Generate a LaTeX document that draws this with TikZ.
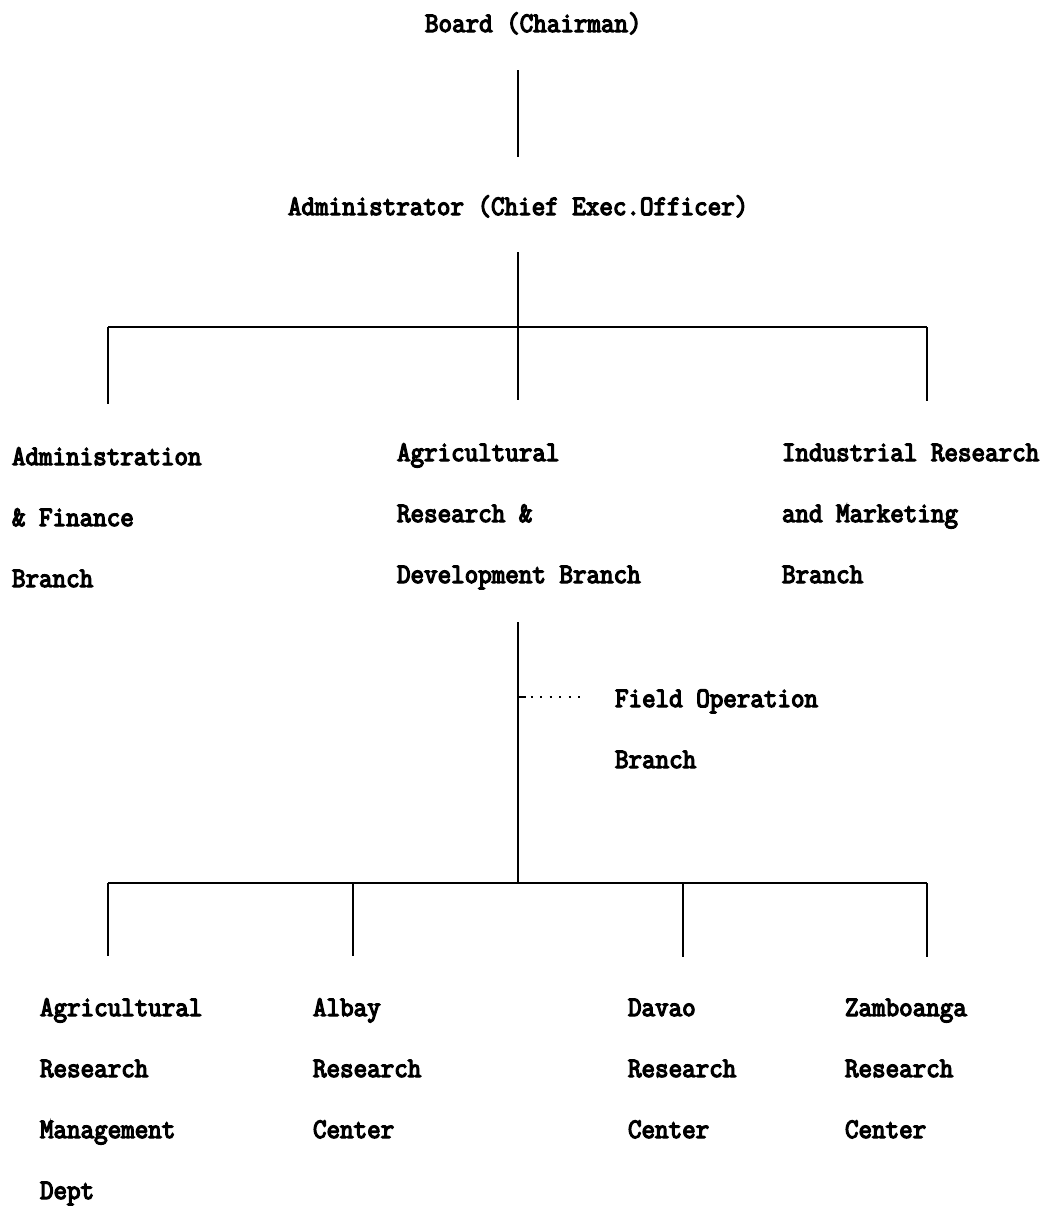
\documentclass[tikz,border=0pt]{standalone}
\usepackage{fontspec}
\setmonofont[FakeBold=4.5,FakeStretch=0.93]{Latin Modern Mono}
\usetikzlibrary{calc}

\begin{document}
\begin{tikzpicture}[x=0.75pt,y=-0.75pt,
  lbl/.style={anchor=base west, inner sep=0pt, outer sep=0pt, align=left,
    font=\ttfamily\fontsize{21.2}{45.75}\selectfont},
  link/.style={line width=2.2pt, line cap=butt},
  dotlink/.style={line width=1.5pt,
    dash pattern=on 6pt off 3.5pt on 1.5pt off 5.6pt on 1.5pt off 5.6pt
      on 1.5pt off 5.6pt on 1.5pt off 5.6pt on 1.5pt off 5.6pt on 1.5pt off 20pt}]
  \useasboundingbox[fill=white] (0,0) rectangle (1045,1208);

  % ---- labels (anchored at the baseline of their last line) ----
  \node[lbl] (board) at (425,32)  {Board (Chairman)};
  \node[lbl] (admin) at (288,215) {Administrator (Chief Exec.Officer)};

  \node[lbl] (af)  at (12,587)  {Administration\\\& Finance\\Branch};
  \node[lbl] (ard) at (397,583) {Agricultural\\Research \&\\Development Branch};
  \node[lbl] (irm) at (782,583) {Industrial Research\\and Marketing\\Branch};

  \node[lbl] (fob) at (615,768) {Field Operation\\Branch};

  \node[lbl] (arm)   at (40,1199)  {Agricultural\\Research\\Management\\Dept};
  \node[lbl] (albay) at (313,1138) {Albay\\Research\\Center};
  \node[lbl] (davao) at (628,1138) {Davao\\Research\\Center};
  \node[lbl] (zamb)  at (845,1138) {Zamboanga\\Research\\Center};

  % ---- tree junctions ----
  \coordinate (j1) at (518,327);
  \coordinate (t1) at (108,327);
  \coordinate (t3) at (927,327);
  \coordinate (j2) at (518,883);
  \coordinate (b1) at (108,883);
  \coordinate (b2) at (353,883);
  \coordinate (b3) at (683,883);
  \coordinate (b4) at (927,883);
  \coordinate (fo) at (518,697);

  % ---- board to administrator to branches ----
  \draw[link] ($(board.base -| j1)+(0,38)$) -- ($(admin.base -| j1)+(0,-58)$);
  \draw[link] ($(admin.base -| j1)+(0,37)$) -- (j1);
  \draw[link] (t1) -- (t3);
  \draw[link] (t1) -- ($(t1 |- af.north)+(0,-43)$);
  \draw[link] (j1) -- ($(j1 |- ard.north)+(0,-43)$);
  \draw[link] (t3) -- ($(t3 |- irm.north)+(0,-43)$);

  % ---- agricultural branch to research centers ----
  \draw[link] ($(ard.base -| j2)+(0,39)$) -- (j2);
  \draw[dotlink] (fo) -- ($(fo -| fob.west)+(-30,0)$);
  \draw[link] (b1) -- (b4);
  \draw[link] (b1) -- ($(b1 |- arm.north)+(0,-42)$);
  \draw[link] (b2) -- ($(b2 |- albay.north)+(0,-42)$);
  \draw[link] (b3) -- ($(b3 |- davao.north)+(0,-42)$);
  \draw[link] (b4) -- ($(b4 |- zamb.north)+(0,-42)$);
\end{tikzpicture}
\end{document}
